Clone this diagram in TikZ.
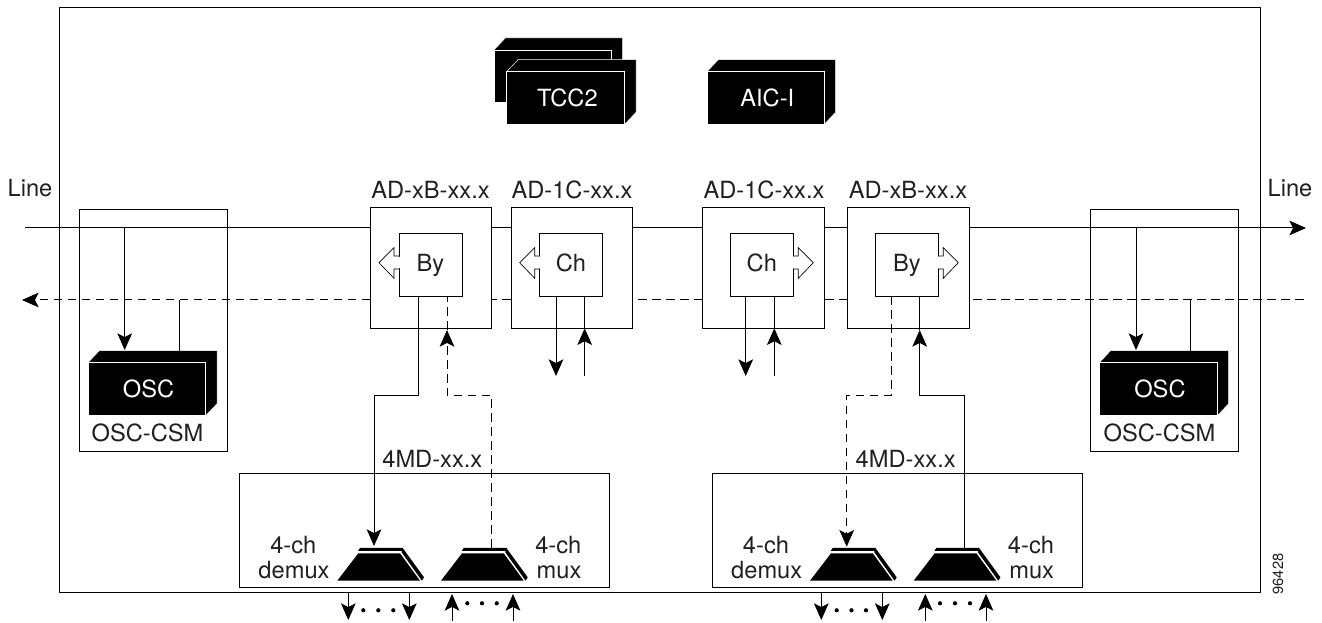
\documentclass[tikz,border=0pt]{standalone}
\usepackage{fontspec}
\setmainfont{TeX Gyre Heros}
\usetikzlibrary{arrows.meta}
\definecolor{ink}{HTML}{231F20}
\tikzset{
  wire/.style={line width=0.75pt,draw=black},
  dashwire/.style={wire,dash pattern=on 6.5pt off 4pt},
  arr/.style={-{Stealth[length=12.5pt,width=11pt,inset=2.8pt]}},
  rectbox/.style={draw=black,line width=0.75pt,inner sep=0pt,outer sep=0pt},
  lab/.style={font=\fontsize{17.75}{20}\selectfont,text=ink,inner sep=0pt,anchor=base,align=center},
  innerlab/.style={rectbox,fill=white,font=\fontsize{17.75}{20}\selectfont,text=ink,text height=10.4pt,text depth=0pt},
  solidface/.style={fill=black,draw=white,line width=0.35pt},
  frontface/.style={solidface,inner sep=0pt,outer sep=0pt,text=white,font=\fontsize{17.75}{20}\selectfont,text height=12.8pt,text depth=0pt},
  dotmark/.style={fill=black,draw=none}
}
% style, name, x1, y1, x2, y2, text
\newcommand{\RBOX}[7]{%
  \pgfmathsetmacro\bw{(#5-#3)*0.75}\pgfmathsetmacro\bh{(#6-#4)*0.75}%
  \node[#1,minimum width=\bw pt,minimum height=\bh pt] (#2) at ({(#3+#5)/2},{(#4+#6)/2}) {#7};}
% name, x1, y1, x2, y2, text : solid 3D card
\newcommand{\CARD}[6]{%
  \pgfmathsetmacro\cr{#4+11.3}\pgfmathsetmacro\cl{#2+11.3}\pgfmathsetmacro\ct{#3-12}\pgfmathsetmacro\cb{#5-12}%
  \filldraw[solidface] (#2,#3) -- (\cl,\ct) -- (\cr,\ct) -- (\cr,\cb) -- (#4,#5) -- cycle;%
  \RBOX{frontface}{#1}{#2}{#3}{#4}{#5}{\hspace*{2.5pt}#6}}
% x of box edge, direction (-1 left, 1 right): hollow arrow leaving a box
\newcommand{\HOLLOW}[2]{%
  \fill[white] ({#1-#2*1.2},256.8) rectangle ({#1+#2*1.2},268.2);%
  \filldraw[fill=white,draw=black,line width=0.5pt,line join=miter]
    (#1,256) -- ({#1+#2*5},256) -- ({#1+#2*5},247.7) -- ({#1+#2*20},262.7) -- ({#1+#2*5},278.3) -- ({#1+#2*5},269) -- (#1,269);}
% dx : trapezoid of demux/mux
\newcommand{\TRAP}[1]{%
  \begin{scope}[shift={(#1,0)}]
    \fill[black] (337.3,580.7) -- (358.3,553.3) -- (400,553.3) -- (420,580.7) -- cycle;
    \fill[black] (360,548) -- (402.7,548) -- (424,577.3) -- (421.9,580.7) -- (401.8,552.6) -- (401.5,551) -- (358,551) -- cycle;
  \end{scope}}
\newcommand{\DOTS}[4]{\foreach \dx in {#1,#2,#3} \fill[dotmark] (\dx,#4) circle (1.6pt);}
\begin{document}
\begin{tikzpicture}[x=0.75pt,y=-0.75pt,line cap=butt]
\useasboundingbox (0,0) rectangle (1322,623);
\fill[white] (0,0) rectangle (1322,623);

\RBOX{rectbox}{frame}{59}{8}{1260.5}{593}{}

% top cards
\CARD{tccback}{494}{50}{611.3}{102.3}{}
\CARD{tcc}{506.7}{71.7}{624.7}{124.3}{TCC2}
\CARD{aic}{707}{71.7}{824.3}{124.3}{AIC-I}

% OSC-CSM
\RBOX{rectbox}{cskL}{79}{210}{227.3}{452}{}
\RBOX{rectbox}{cskR}{1090.7}{210}{1238.7}{452}{}
\CARD{oscL}{88}{362.7}{205.7}{415.7}{OSC}
\CARD{oscR}{1099.3}{362.7}{1217.3}{415.7}{OSC}
\node[lab] (cskLlab) at (147.5,441.7) {OSC-CSM};
\node[lab] (cskRlab) at (1159.5,441.7) {OSC-CSM};

% AD boxes
\RBOX{rectbox}{adA}{370.3}{207.3}{491.7}{328.3}{}
\RBOX{rectbox}{adB}{511}{207.3}{632.3}{328.3}{}
\RBOX{rectbox}{adC}{702.7}{207.3}{824.3}{328.3}{}
\RBOX{rectbox}{adD}{847.7}{207.3}{969}{328.3}{}
\node[lab] (adAlab) at (430.5,199) {AD-xB-xx.x};
\node[lab] (adBlab) at (572,199) {AD-1C-xx.x};
\node[lab] (adClab) at (764,199) {AD-1C-xx.x};
\node[lab] (adDlab) at (908,199) {AD-xB-xx.x};

% inner By/Ch
\RBOX{innerlab}{byA}{399}{233.3}{462}{296.3}{By}
\RBOX{innerlab}{chB}{539.7}{233.3}{602.3}{296.3}{Ch}
\RBOX{innerlab}{chC}{730.3}{233.3}{793.3}{296.3}{Ch}
\RBOX{innerlab}{byD}{875.7}{233.3}{938.3}{296.3}{By}
\HOLLOW{399}{-1}
\HOLLOW{539.7}{-1}
\HOLLOW{793.3}{1}
\HOLLOW{938.3}{1}

% line labels
\node[lab] (lineL) at (30,197) {Line};
\node[lab] (lineR) at (1290,197) {Line};

% main solid line
\coordinate (solidL) at (25,228);
\coordinate (solidR) at (1306,228);
\draw[wire] (solidL) -- (solidL -| adA.west);
\draw[wire] (solidL -| adA.east) -- (solidL -| adB.west);
\draw[wire] (solidL -| adB.east) -- (solidL -| adC.west);
\draw[wire] (solidL -| adC.east) -- (solidL -| adD.west);
\draw[wire,arr] (solidL -| adD.east) -- (solidR);

% main dashed line
\coordinate (dashL) at (22,300);
\coordinate (dashR) at (1304,300);
\draw[dashwire] (dashR) -- (dashR -| adD.east);
\draw[dashwire] (dashR -| adD.west) -- (dashR -| adC.east);
\draw[dashwire] (dashR -| adC.west) -- (dashR -| adB.east);
\draw[dashwire] (dashR -| adB.west) -- (dashR -| adA.east);
\draw[dashwire,arr] (dashR -| adA.west) -- (dashL);

% OSC taps
\coordinate (tapLa) at (124.7,228);
\coordinate (tapLb) at (124.7,350);
\coordinate (tapLc) at (179.7,300);
\coordinate (tapLd) at (179.7,351);
\coordinate (tapRa) at (1136,228);
\coordinate (tapRb) at (1136,350);
\coordinate (tapRc) at (1190.7,300);
\coordinate (tapRd) at (1190.7,351);
\draw[wire,arr] (tapLa) -- (tapLb);
\draw[wire] (tapLc) -- (tapLd);
\draw[wire,arr] (tapRa) -- (tapRb);
\draw[wire] (tapRc) -- (tapRd);

% Ch stubs
\coordinate (chBd) at (556,376);
\coordinate (chBu) at (584.7,376);
\coordinate (chCd) at (745.7,376);
\coordinate (chCu) at (774.3,376);
\draw[wire,arr] (chB.south -| chBd) -- (chBd);
\draw[wire,arr] (chBu) -- (chBu |- adB.south);
\draw[wire] (chBu |- adB.south) -- (chB.south -| chBu);
\draw[wire,arr] (chC.south -| chCd) -- (chCd);
\draw[wire,arr] (chCu) -- (chCu |- adC.south);
\draw[wire] (chCu |- adC.south) -- (chC.south -| chCu);

% 4MD
\RBOX{rectbox}{mdL}{239}{473.7}{609.7}{587.3}{}
\RBOX{rectbox}{mdR}{712.3}{473.7}{1082.7}{587.3}{}
\node[lab] (mdLlab) at (432.3,467.7) {4MD-xx.x};
\node[lab] (mdRlab) at (905.7,467.7) {4MD-xx.x};

\TRAP{0}
\TRAP{103.7}
\TRAP{472.7}
\TRAP{576.4}

\node[lab] (dmLa) at (293.3,553.3) {4-ch};
\node[lab] (dmLb) at (294,579) {demux};
\node[lab] (mxLa) at (558.3,553.3) {4-ch};
\node[lab] (mxLb) at (559,579) {mux};
\node[lab] (dmRa) at (766,553.3) {4-ch};
\node[lab] (dmRb) at (766.7,579) {demux};
\node[lab] (mxRa) at (1031,553.3) {4-ch};
\node[lab] (mxRb) at (1031.7,579) {mux};

% By <-> 4MD
\coordinate (turn) at (0,395.3);
\coordinate (byAs) at (418.7,296.3);
\coordinate (byAm) at (447,330);
\coordinate (byDm) at (891.3,296.3);
\coordinate (byDs) at (919.7,330);
\coordinate (dmLt) at (374,546);
\coordinate (mxLt) at (491.7,548);
\coordinate (dmRt) at (846.7,546.7);
\coordinate (mxRt) at (964.3,548);
\draw[wire,arr] (byAs) -- (byAs |- turn) -- (dmLt |- turn) -- (dmLt);
\draw[dashwire,arr] (mxLt) -- (mxLt |- turn) -- (byAm |- turn) -- (byAm);
\draw[dashwire] (byAm) -- (byA.south -| byAm);
\draw[dashwire,arr] (byDm) -- (byDm |- turn) -- (dmRt |- turn) -- (dmRt);
\draw[wire,arr] (mxRt) -- (mxRt |- turn) -- (byDs |- turn) -- (byDs);
\draw[wire] (byDs) -- (byD.south -| byDs);

% port stubs below the frame
\foreach \x in {348.3,409.3,821.3,882.3} \draw[wire,arr] (\x,593) -- (\x,620);
\foreach \x in {452,513,925.3,986} \draw[wire,arr] (\x,621) -- (\x,594);
\DOTS{363.3}{378.3}{393.3}{610.3}
\DOTS{467.3}{482}{496.7}{603.3}
\DOTS{836.7}{851.5}{866}{610.3}
\DOTS{940}{955}{970}{603.3}

\node[font=\fontsize{11}{13}\selectfont,text=ink,inner sep=0pt,rotate=90] (code) at (1278,574) {96428};
\end{tikzpicture}
\end{document}
